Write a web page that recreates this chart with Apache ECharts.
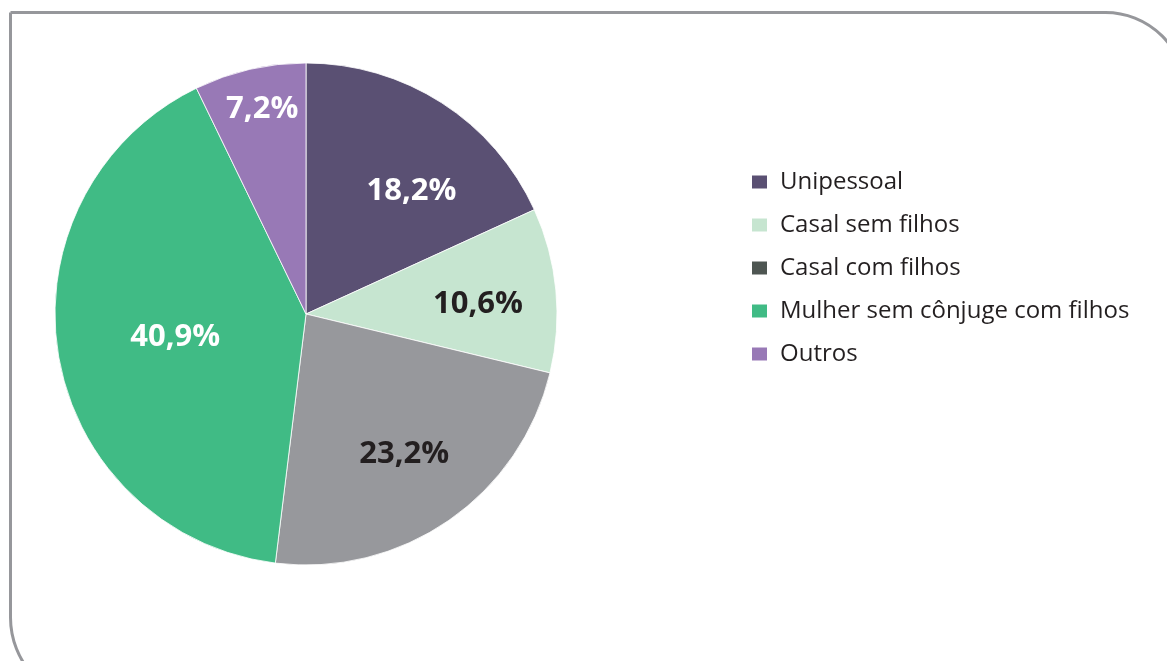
<!DOCTYPE html>
<html>
<head>
<meta charset="utf-8">
<script src="https://cdn.jsdelivr.net/npm/echarts@6/dist/echarts.min.js"></script>
<style>
  html, body { margin: 0; padding: 0; background: #fff; }
  #chart { width: 1167px; height: 661px; }
</style>
</head>
<body>
<div id="chart"></div>
<script>
const categories = ['Unipessoal', 'Casal sem filhos', 'Casal com filhos', 'Mulher sem cônjuge com filhos', 'Outros']
const values = [18.2, 10.6, 23.2, 40.9, 7.2]
const sliceColors = ['#5a5073', '#c6e5d0', '#97989c', '#40bb85', '#9879b6']
// legend squares in the original don't all match the slices
const legendColors = ['#5a5073', '#c6e5d0', '#4e5652', '#40bb85', '#9879b6']
const labelColors = ['#fff', '#231f20', '#231f20', '#fff', '#fff']
// nudges from the default "inside" spot
const labelOffsets = [[36, -15], [44, 2], [25, 35], [-4, 2], [-15, -80]]

const chart = echarts.init(document.getElementById('chart'))

chart.setOption({
  animation: false,
  graphic: [
    {
      type: 'rect',
      shape: { x: 10.5, y: 12.5, width: 1175, height: 690, r: [0, 80, 0, 85] },
      style: { fill: 'none', stroke: '#96979b', lineWidth: 3 }
    }
  ],
  legend: {
    orient: 'vertical',
    left: 750,
    top: 170,
    padding: 0,
    itemWidth: 17,
    itemHeight: 15,
    itemGap: 19,
    icon: 'rect',
    textStyle: {
      fontFamily: 'Open Sans',
      fontSize: 24,
      lineHeight: 24,
      color: '#231f20',
      padding: [0, 0, 0, 7]
    },
    data: categories.map((name, i) => ({
      name: name,
      itemStyle: { color: legendColors[i] }
    }))
  },
  series: [
    {
      type: 'pie',
      center: [306, 314],
      radius: 251,
      startAngle: 90,
      clockwise: true,
      itemStyle: { borderColor: '#fff', borderWidth: 0.8 },
      label: {
        show: true,
        position: 'inside',
        fontFamily: 'Open Sans',
        fontWeight: 'bold',
        fontSize: 31,
        formatter: (p) => p.value.toFixed(1).replace('.', ',') + '%'
      },
      labelLine: { show: false },
      emphasis: { disabled: true },
      data: categories.map((name, i) => ({
        name: name,
        value: values[i],
        itemStyle: { color: sliceColors[i] },
        label: { color: labelColors[i], offset: labelOffsets[i] }
      }))
    }
  ]
})
</script>
</body>
</html>
